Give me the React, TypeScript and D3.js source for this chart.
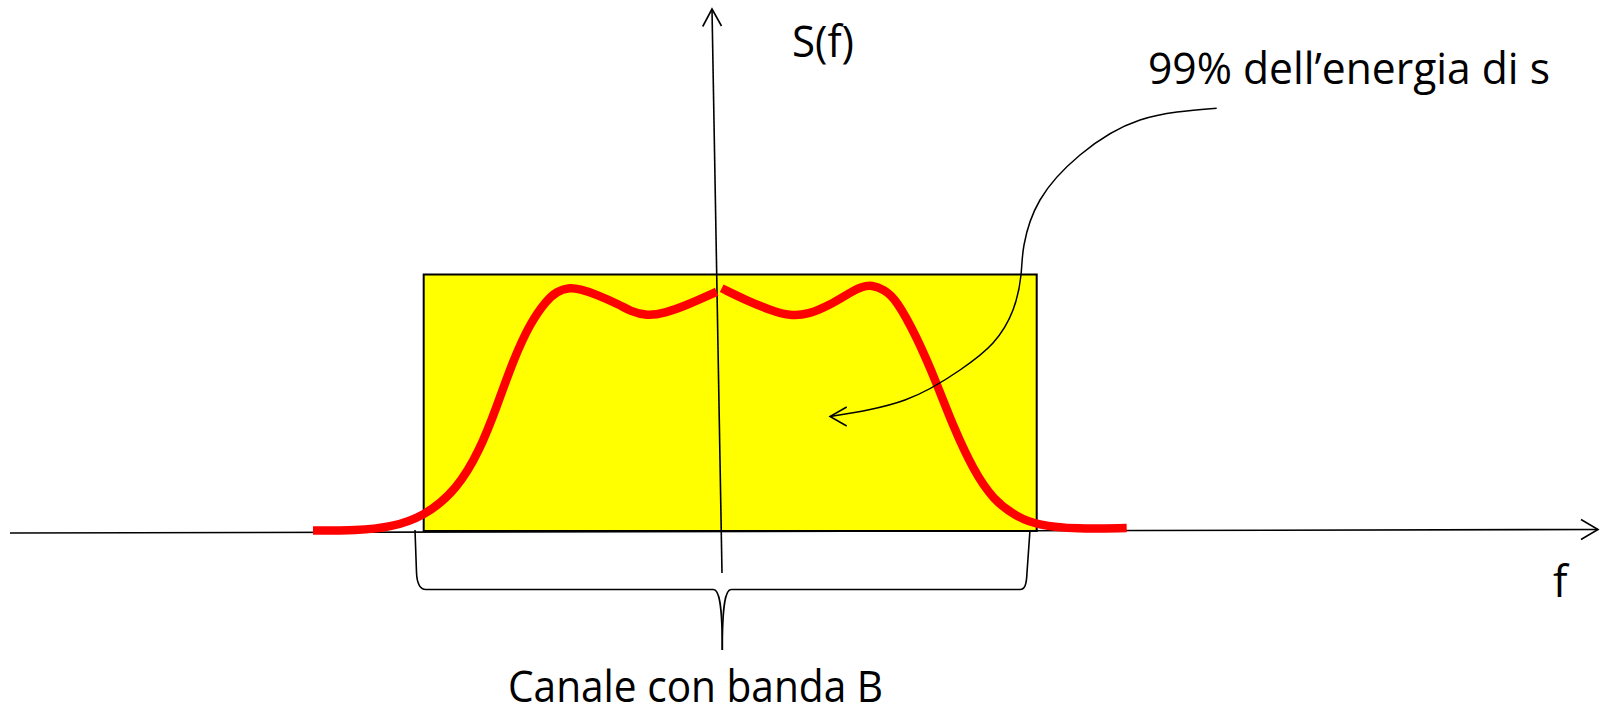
import React from "react";
import * as d3 from "d3";

// Spectrum S(f), left half (negative f) and right half (positive f)
const leftF = [-4.06, -3.62, -3.29, -2.953, -2.623, -2.39, -2.223, -2.057, -1.89, -1.723, -1.62, -1.51, -1.39, -1.223, -0.99, -0.89, -0.723, -0.54, -0.34, -0.023];
const leftS = [0.002, 0.002, 0.014, 0.057, 0.164, 0.324, 0.497, 0.684, 0.831, 0.924, 0.958, 0.974, 0.968, 0.946, 0.904, 0.88, 0.86, 0.872, 0.9, 0.957];
const rightF = [0.027, 0.277, 0.51, 0.71, 0.89, 1.11, 1.31, 1.43, 1.53, 1.65, 1.77, 1.977, 2.177, 2.343, 2.543, 2.743, 2.977, 3.177, 3.577, 4.077];
const rightS = [0.971, 0.922, 0.884, 0.86, 0.866, 0.904, 0.954, 0.978, 0.984, 0.966, 0.928, 0.777, 0.591, 0.417, 0.244, 0.124, 0.057, 0.024, 0.007, 0.012];

// Channel band (yellow box)
const bandF = [-2.953, 3.177];
const bandS = [0, 1.026];

// Axes endpoints
const hAxisF = [-7.09, 8.79];
const hAxisS = [-0.008, 0.006];
const vAxisF = [-0.07, 0.03];
const vAxisS = [2.088, -0.168];

// Brace under the band
const braceF = [-3.04, 0.033, 3.11];
const braceS = [0.004, -0.234, -0.476];

// Annotation arrow path
const noteF = [4.977, 4.21, 3.61, 3.21, 3.05, 3.02, 2.94, 2.74, 2.41, 1.86, 1.11];
const noteS = [1.691, 1.644, 1.504, 1.324, 1.144, 1.024, 0.884, 0.752, 0.644, 0.524, 0.458];

const labels = {
  sf: "S(f)",
  note: "99% dell\u2019energia di s",
  band: "Canale con banda B",
  f: "f",
};

export default function App() {
  const W = 1600, H = 710;
  const x = d3.scaleLinear().domain([-4, 4]).range([319, 1119]);
  const y = d3.scaleLinear().domain([0, 1]).range([531, 281]);

  const redLine = d3
    .line<[number, number]>()
    .x((d) => x(d[0]))
    .y((d) => y(d[1]))
    .curve(d3.curveBasis);

  const noteLine = d3
    .line<[number, number]>()
    .x((d) => x(d[0]))
    .y((d) => y(d[1]))
    .curve(d3.curveNatural);

  const left = leftF.map((f, i) => [f, leftS[i]] as [number, number]);
  const right = rightF.map((f, i) => [f, rightS[i]] as [number, number]);
  const note = noteF.map((f, i) => [f, noteS[i]] as [number, number]);

  const hx0 = x(hAxisF[0]), hy0 = y(hAxisS[0]);
  const hx1 = x(hAxisF[1]), hy1 = y(hAxisS[1]);
  const vx0 = x(vAxisF[0]), vy0 = y(vAxisS[0]);
  const vx1 = x(vAxisF[1]), vy1 = y(vAxisS[1]);

  const bL = x(braceF[0]), bC = x(braceF[1]), bR = x(braceF[2]);
  const bTop = y(braceS[0]), bMid = y(braceS[1]), bTip = y(braceS[2]);
  const braceLeft = `M${bL},${bTop} L${bL + 1.5},${bMid - 17} C${bL + 2},${bMid - 5} ${bL + 5},${bMid} ${bL + 11},${bMid} L${bC - 9},${bMid} C${bC - 3},${bMid} ${bC},${bMid + 15} ${bC},${bTip}`;
  const braceRight = `M${bC},${bTip} C${bC},${bMid + 15} ${bC + 3},${bMid} ${bC + 9},${bMid} L${bR - 10},${bMid} C${bR - 5},${bMid} ${bR - 3.5},${bMid - 5} ${bR - 3},${bMid - 17} L${bR},${bTop}`;

  const tip = note[note.length - 1];
  const tx = x(tip[0]), ty = y(tip[1]);

  const textStyle = { fontFamily: "'Open Sans', sans-serif", fontSize: 43, fill: "#000" } as const;

  return (
    <svg width={W} height={H} style={{ position: "absolute", left: 0, top: 0, display: "block", background: "#fff" }}>
      <rect
        x={x(bandF[0])}
        y={y(bandS[1])}
        width={x(bandF[1]) - x(bandF[0])}
        height={y(bandS[0]) - y(bandS[1])}
        fill="#FFFF00"
        stroke="#000"
        strokeWidth={2}
      />
      <line x1={hx0} y1={hy0} x2={hx1} y2={hy1} stroke="#000" strokeWidth={1.6} />
      <polyline points={`${hx1 - 17},${hy1 - 10} ${hx1},${hy1} ${hx1 - 17},${hy1 + 10}`} fill="none" stroke="#000" strokeWidth={1.6} />
      <line x1={vx0} y1={vy0} x2={vx1} y2={vy1} stroke="#000" strokeWidth={1.6} />
      <polyline points={`${vx0 - 9.3},${vy0 + 17.5} ${vx0},${vy0} ${vx0 + 9.5},${vy0 + 17}`} fill="none" stroke="#000" strokeWidth={1.6} />
      <path d={redLine(left) || ""} fill="none" stroke="#FF0000" strokeWidth={8.5} />
      <path d={redLine(right) || ""} fill="none" stroke="#FF0000" strokeWidth={8.5} />
      <path d={braceLeft} fill="none" stroke="#000" strokeWidth={1.6} />
      <path d={braceRight} fill="none" stroke="#000" strokeWidth={1.6} />
      <path d={noteLine(note) || ""} fill="none" stroke="#000" strokeWidth={1.5} />
      <polyline points={`${tx + 16.7},${ty - 9.5} ${tx},${ty} ${tx + 16.7},${ty + 9.5}`} fill="none" stroke="#000" strokeWidth={1.5} />
      <text x={792} y={57} {...textStyle} textLength={62} lengthAdjust="spacingAndGlyphs">{labels.sf}</text>
      <text x={1148} y={84} {...textStyle} textLength={402} lengthAdjust="spacingAndGlyphs">{labels.note}</text>
      <text x={508} y={702} {...textStyle} textLength={375} lengthAdjust="spacingAndGlyphs">{labels.band}</text>
      <text x={1553} y={597} {...textStyle}>{labels.f}</text>
    </svg>
  );
}
